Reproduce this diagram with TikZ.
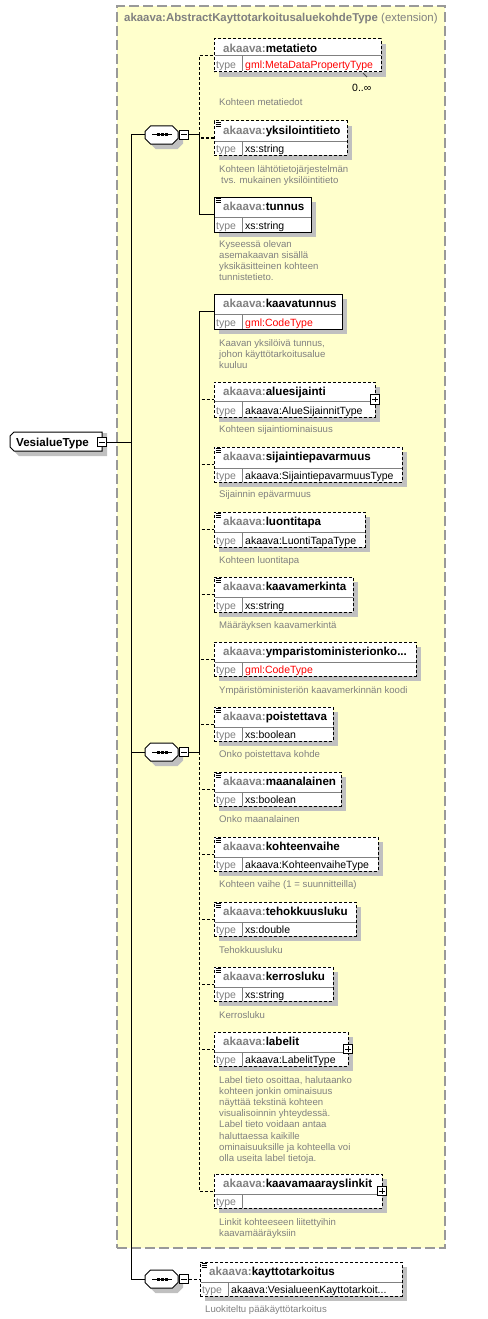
\documentclass[tikz,border=0pt]{standalone}
\usepackage{fontspec}
\setmainfont{Liberation Sans}
\usetikzlibrary{shadows,fit}
\definecolor{extfill}{HTML}{FFFFCC}
\definecolor{extborder}{HTML}{999999}
\definecolor{pfx}{HTML}{808080}
\definecolor{shgray}{HTML}{C0C0C0}
\definecolor{desccol}{HTML}{808080}
\definecolor{sepcol}{HTML}{808080}
\definecolor{typered}{HTML}{FF0000}

\tikzset{
  ln/.style={line width=1pt},
  dsh/.style={dash pattern=on 3pt off 2pt},
  shad/.style={drop shadow={shadow xshift=5pt,shadow yshift=-5pt,fill=shgray,opacity=1}},
  elembox/.style={draw,line width=1pt,fill=white,inner sep=0pt,shad},
  reqbox/.style={solid},
  optbox/.style={dsh},
  sepline/.style={draw=sepcol,line width=1pt},
  nametext/.style={font=\fontsize{11.6}{13}\selectfont\bfseries,inner sep=0pt},
  typelabel/.style={font=\fontsize{10.5}{12}\selectfont,text=pfx,inner sep=0pt},
  typeval/.style={font=\fontsize{10.5}{12}\selectfont,inner sep=0pt},
  desctext/.style={font=\fontsize{9.6}{11.2}\selectfont,text=desccol,inner sep=0pt,align=left},
  anchornode/.style={rectangle,inner sep=0pt,outer sep=0pt},
  symfill/.style={fill=white,draw=black,line width=1pt},
  minusbox/.style={draw,ln,fill=white,minimum size=9.5pt,inner sep=0pt,
    path picture={\draw[ln] ([xshift=2pt]path picture bounding box.west) -- ([xshift=-2pt]path picture bounding box.east);}},
  plusbox/.style={draw,ln,fill=white,minimum size=9.5pt,inner sep=0pt,
    path picture={\draw[ln] ([xshift=2pt]path picture bounding box.west) -- ([xshift=-2pt]path picture bounding box.east);
      \draw[ln] ([yshift=-2pt]path picture bounding box.north) -- ([yshift=2pt]path picture bounding box.south);}},
  conn/.style={ln},
  connd/.style={ln,dsh},
  extbox/.style={draw=extborder,fill=extfill,line width=1.2pt,dash pattern=on 10pt off 4pt,inner sep=0pt},
  iconline/.style={line width=0.9pt},
}

% id, style, x1, y1, x2, y2, split, name, type
\newcommand{\elem}[9]{%
  \node[elembox,#2,fit={(#3,#4)(#5,#6)}] (#1) {};
  \draw[sepline] ({#3+0.5},#7) -- ({#5-0.5},#7);
  \draw[sepline] ({#3+28},#7) -- ({#3+28},{#6-0.5});
  \node[nametext,anchor=base west] (#1-n) at ({#3+9},{#4+13.5}) {\textcolor{pfx}{akaava:}#8};
  \node[typelabel,anchor=base west] (#1-tl) at ({#3+2},{#6-3}) {type};
  \node[typeval,anchor=base west] (#1-tv) at ({#3+31},{#6-3}) {#9};
}
\newcommand{\eicon}[1]{%
  \draw[iconline] ([shift={(2,1.5)}]#1.north west) -- ++(5,0)
                  ([shift={(2,3.5)}]#1.north west) -- ++(5,0)
                  ([shift={(2,5.5)}]#1.north west) -- ++(5,0);
}
% octagon path around (#1,#2)
\newcommand{\octpath}[2]{(#1-16.5,#2-3.5) -- (#1-11,#2-9) -- (#1+11,#2-9) -- (#1+16.5,#2-3.5) -- (#1+16.5,#2+3.5) -- (#1+11,#2+9) -- (#1-11,#2+9) -- (#1-16.5,#2+3.5) -- cycle}
\newcommand{\seqsym}[2]{%
  \fill[shgray] \octpath{166.5}{#2+5};
  \draw[symfill] \octpath{161.5}{#2};
  \node[anchornode,minimum width=33pt,minimum height=18pt] (#1) at (161.5,#2) {};
  \draw[ln] ([xshift=-9.5pt]#1.center) -- ([xshift=10.5pt]#1.center);
  \foreach \dx in {-3.5,0.5,4.5} \fill ([shift={(\dx-1.5,-1.5)}]#1.center) rectangle ++(3,3);
  \node[minusbox] (#1m) at (184,#2) {};
}
\newcommand{\descr}[4]{%
  \node[desctext,anchor=base west] (#1) at (#2,#3) {#4};
}

\begin{document}
\begin{tikzpicture}[x=1pt,y=-1pt]
\useasboundingbox (0,0) rectangle (487,1319);

% extension box
\node[extbox,fit={(117,6)(445,1248)}] (ext) {};
\node[anchor=base west,inner sep=0pt,text=pfx,font=\fontsize{11.4}{13}\selectfont] (ext-t) at (124,22)
  {\textbf{akaava:AbstractKayttotarkoitusaluekohdeType} (extension)};

% root
\fill[shgray] (15,437) -- (19,433) -- (107,433) -- (107,456) -- (19,456) -- (15,452) -- cycle;
\draw[symfill] (10,436) -- (14,432) -- (102,432) -- (102,451) -- (14,451) -- (10,447) -- cycle;
\node[anchornode,minimum width=92pt,minimum height=19pt] (vt) at (56,441.5) {};
\node[nametext,anchor=base west] (vt-t) at (16,446) {VesialueType};
\node[minusbox] (vm) at (102,442) {};

% sequences
\seqsym{s1}{135}
\seqsym{s2}{752}
\seqsym{s3}{1279}

% elements in first sequence
\elem{meta}{optbox}{214}{39}{381}{72}{56}{metatieto}{\textcolor{typered}{gml:MetaDataPropertyType}}
\draw[ln,draw=black!70] (363,73) -- (367,77);
\node[typeval,anchor=base west] (meta-mult) at (352,92) {0..∞};
\descr{meta-d}{219}{106}{Kohteen metatiedot}

\elem{yks}{optbox}{214}{121}{347}{155}{141}{yksilointitieto}{xs:string}
\eicon{yks}
\descr{yks-d}{219}{183.2}{Kohteen lähtötietojärjestelmän\\\hspace{2pt}tvs. mukainen yksilöintitieto}

\elem{tun}{reqbox}{214}{197}{311}{232}{217}{tunnus}{xs:string}
\eicon{tun}
\descr{tun-d}{219}{280.6}{Kyseessä olevan\\asemakaavan sisällä\\yksikäsitteinen kohteen\\tunnistetieto.}

% elements in second sequence
\elem{kaav}{reqbox}{214}{294}{342}{329}{314}{kaavatunnus}{\textcolor{typered}{gml:CodeType}}
\descr{kaav-d}{219}{368.4}{Kaavan yksilöivä tunnus,\\johon käyttötarkoitusalue\\kuuluu}

\elem{alue}{optbox}{214}{382}{375}{417}{401}{aluesijainti}{akaava:AlueSijainnitType}
\node[plusbox] (alue-p) at (375,399.5) {};
\descr{alue-d}{219}{432}{Kohteen sijaintiominaisuus}

\elem{sij}{optbox}{214}{447}{402}{482}{468}{sijaintiepavarmuus}{akaava:SijaintiepavarmuusType}
\eicon{sij}
\descr{sij-d}{219}{497}{Sijainnin epävarmuus}

\elem{luo}{optbox}{214}{512}{365}{547}{532}{luontitapa}{akaava:LuontiTapaType}
\eicon{luo}
\descr{luo-d}{219}{563}{Kohteen luontitapa}

\elem{km}{optbox}{214}{577}{353}{612}{597}{kaavamerkinta}{xs:string}
\eicon{km}
\descr{km-d}{219}{628}{Määräyksen kaavamerkintä}

\elem{ymp}{optbox}{214}{642}{416}{676}{662}{ymparistoministerionko...}{\textcolor{typered}{gml:CodeType}}
\descr{ymp-d}{219}{693}{Ympäristöministeriön kaavamerkinnän koodi}

\elem{poi}{optbox}{214}{707}{333}{741}{727}{poistettava}{xs:boolean}
\eicon{poi}
\descr{poi-d}{219}{757}{Onko poistettava kohde}

\elem{maa}{optbox}{214}{772}{341}{806}{792}{maanalainen}{xs:boolean}
\eicon{maa}
\descr{maa-d}{219}{822}{Onko maanalainen}

\elem{koh}{optbox}{214}{837}{378}{871}{857}{kohteenvaihe}{akaava:KohteenvaiheType}
\eicon{koh}
\descr{koh-d}{219}{887}{Kohteen vaihe (1 = suunnitteilla)}

\elem{teh}{optbox}{214}{902}{356}{936}{922}{tehokkuusluku}{xs:double}
\eicon{teh}
\descr{teh-d}{219}{953}{Tehokkuusluku}

\elem{ker}{optbox}{214}{967}{333}{1001}{987}{kerrosluku}{xs:string}
\eicon{ker}
\descr{ker-d}{219}{1018}{Kerrosluku}

\elem{lab}{optbox}{214}{1032}{348}{1066}{1052}{labelit}{akaava:LabelitType}
\node[plusbox] (lab-p) at (348,1049) {};
\descr{lab-d}{219}{1161.4}{Label tieto osoittaa, halutaanko\\kohteen jonkin ominaisuus\\näyttää tekstinä kohteen\\visualisoinnin yhteydessä.\\Label tieto voidaan antaa\\haluttaessa kaikille\\ominaisuuksille ja kohteella voi\\olla useita label tietoja.}

\elem{kml}{optbox}{214}{1174}{382}{1208}{1194}{kaavamaarayslinkit}{}
\node[plusbox] (kml-p) at (382,1191) {};
\descr{kml-d}{219}{1236.2}{Linkit kohteeseen liitettyihin\\kaavamääräyksiin}

% third sequence element
\elem{kt}{optbox}{200}{1262}{402}{1296}{1282}{kayttotarkoitus}{akaava:VesialueenKayttotarkoit...}
\eicon{kt}
\descr{kt-d}{205}{1312}{Luokiteltu pääkäyttötarkoitus}

% connectors
\coordinate (jm) at (131,442);
\draw[conn] (vm.east) -- (jm);
\draw[conn] (jm) |- (s1.west);
\draw[conn] (jm) |- (s2.west);
\draw[conn] (jm) |- (s3.west);

\coordinate (j1) at (199,135);
\draw[conn] (s1m.east) -- (j1);
\draw[conn] (j1) |- (tun.west);
\draw[connd] (j1) |- (meta.west);
\draw[connd] (j1) |- (yks.west);

\coordinate (j2) at (199,752);
\draw[conn] (s2m.east) -- (j2);
\draw[conn] (j2) |- (kaav.west);
\foreach \e in {alue,sij,luo,km,ymp} \draw[connd] (j2) |- (\e.west);
\foreach \e in {poi,maa,koh,teh,ker,lab,kml} \draw[connd] (j2) |- (\e.west);

\draw[connd] (s3m.east) -- (kt.west);
\end{tikzpicture}
\end{document}
